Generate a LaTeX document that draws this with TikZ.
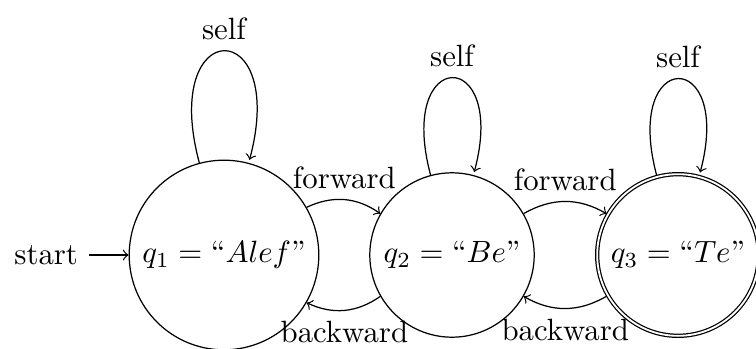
\documentclass[tikz,border=0pt]{standalone}
\usetikzlibrary{automata}
\begin{document}
\begin{tikzpicture}[x=0.325pt,y=-0.325pt,>=to]
\useasboundingbox (0,0) rectangle (756,349);
\node[state,initial,initial text=start] (q1) at (224,255) {$q_1 = \mbox{``}Alef\mbox{''}$};
\node[state] (q2) at (452,255) {$q_2 = \mbox{``}Be\mbox{''}$};
\node[state,accepting] (q3) at (678,255) {$q_3 = \mbox{``}Te\mbox{''}$};
\path[->] (q1) edge[loop above] node[above] {self} ()
               edge[bend left] node[above] {forward} (q2)
          (q2) edge[loop above] node[above] {self} ()
               edge[bend left] node[below] {backward} (q1)
               edge[bend left] node[above] {forward} (q3)
          (q3) edge[loop above] node[above] {self} ()
               edge[bend left] node[below] {backward} (q2);
\end{tikzpicture}
\end{document}
